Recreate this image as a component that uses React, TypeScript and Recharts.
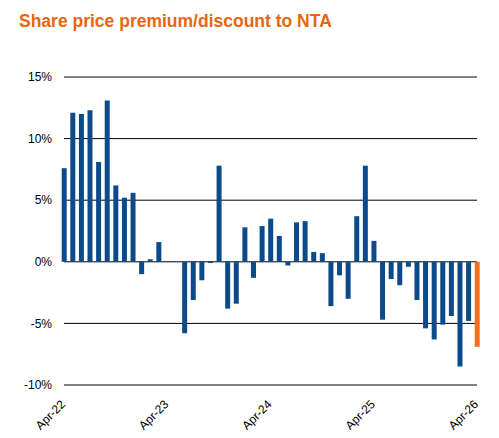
import React from 'react';
import { BarChart, Bar, XAxis, YAxis, CartesianGrid, Cell } from 'recharts';

const title = 'Share price premium/discount to NTA';

const months = [
  'Apr-22', 'May-22', 'Jun-22', 'Jul-22', 'Aug-22', 'Sep-22', 'Oct-22', 'Nov-22', 'Dec-22',
  'Jan-23', 'Feb-23', 'Mar-23', 'Apr-23', 'May-23', 'Jun-23', 'Jul-23', 'Aug-23', 'Sep-23',
  'Oct-23', 'Nov-23', 'Dec-23', 'Jan-24', 'Feb-24', 'Mar-24', 'Apr-24', 'May-24', 'Jun-24',
  'Jul-24', 'Aug-24', 'Sep-24', 'Oct-24', 'Nov-24', 'Dec-24', 'Jan-25', 'Feb-25', 'Mar-25',
  'Apr-25', 'May-25', 'Jun-25', 'Jul-25', 'Aug-25', 'Sep-25', 'Oct-25', 'Nov-25', 'Dec-25',
  'Jan-26', 'Feb-26', 'Mar-26', 'Apr-26',
];

const premium = [
  7.6, 12.1, 12.0, 12.3, 8.1, 13.1, 6.2, 5.2, 5.6,
  -1.0, 0.2, 1.6, 0.05, 0.0, -5.8, -3.1, -1.5, -0.1,
  7.8, -3.8, -3.4, 2.8, -1.3, 2.9, 3.5, 2.1, -0.3,
  3.2, 3.3, 0.8, 0.7, -3.6, -1.1, -3.0, 3.7, 7.8,
  1.7, -4.7, -1.4, -1.9, -0.4, -3.1, -5.4, -6.3, -5.1,
  -4.4, -8.5, -4.8, -6.9,
];

const yTicks = [-10, -5, 0, 5, 10, 15];
const xTickLabels = ['Apr-22', 'Apr-23', 'Apr-24', 'Apr-25', 'Apr-26'];

const BLUE = '#0B4A8B';
const ORANGE = '#F37021';
const TITLE_COLOR = '#E8660F';
const FONT = '"Liberation Sans", Arial, sans-serif';

const data = months.map((m, i) => ({ idx: i, month: m, value: premium[i] }));
const xTicks = xTickLabels.map((l) => months.indexOf(l));

const XTick = (props: any) => {
  const { x, y, payload } = props;
  return (
    <g transform={`translate(${x + 2},${y + 12})`}>
      <text
        x={0}
        y={0}
        textAnchor="end"
        transform="rotate(-45)"
        fontSize={12}
        fontFamily={FONT}
        fill="#000"
      >
        {months[payload.value]}
      </text>
    </g>
  );
};

export default function App() {
  return (
    <div style={{ position: 'absolute', left: 0, top: 0, width: 499, height: 438, background: '#fff' }}>
      <svg width={499} height={40} style={{ position: 'absolute', left: 0, top: 0 }}>
        <text x={19} y={27} fontSize={17.5} fontWeight="bold" fontFamily={FONT} fill={TITLE_COLOR}>
          {title}
        </text>
      </svg>
      <div style={{ position: 'absolute', left: 0, top: 0 }}>
        <BarChart
          width={499}
          height={438}
          data={data}
          margin={{ top: 77, right: 22, bottom: 23, left: 0 }}
        >
          <CartesianGrid vertical={false} stroke="#000" strokeWidth={1} />
          <XAxis
            dataKey="idx"
            type="number"
            domain={[0, 48]}
            ticks={xTicks}
            interval={0}
            axisLine={false}
            tickLine={false}
            height={30}
            tick={<XTick />}
          />
          <YAxis
            type="number"
            domain={[-10, 15]}
            ticks={yTicks}
            interval={0}
            width={64}
            axisLine={false}
            tickLine={false}
            tickSize={6}
            tickMargin={6}
            tickFormatter={(v: number) => `${v}%`}
            tick={{ fontSize: 12, fill: '#000', fontFamily: FONT }}
          />
          <Bar dataKey="value" barSize={5} isAnimationActive={false}>
            {data.map((d, i) => (
              <Cell key={d.month} fill={i === data.length - 1 ? ORANGE : BLUE} />
            ))}
          </Bar>
        </BarChart>
      </div>
    </div>
  );
}
